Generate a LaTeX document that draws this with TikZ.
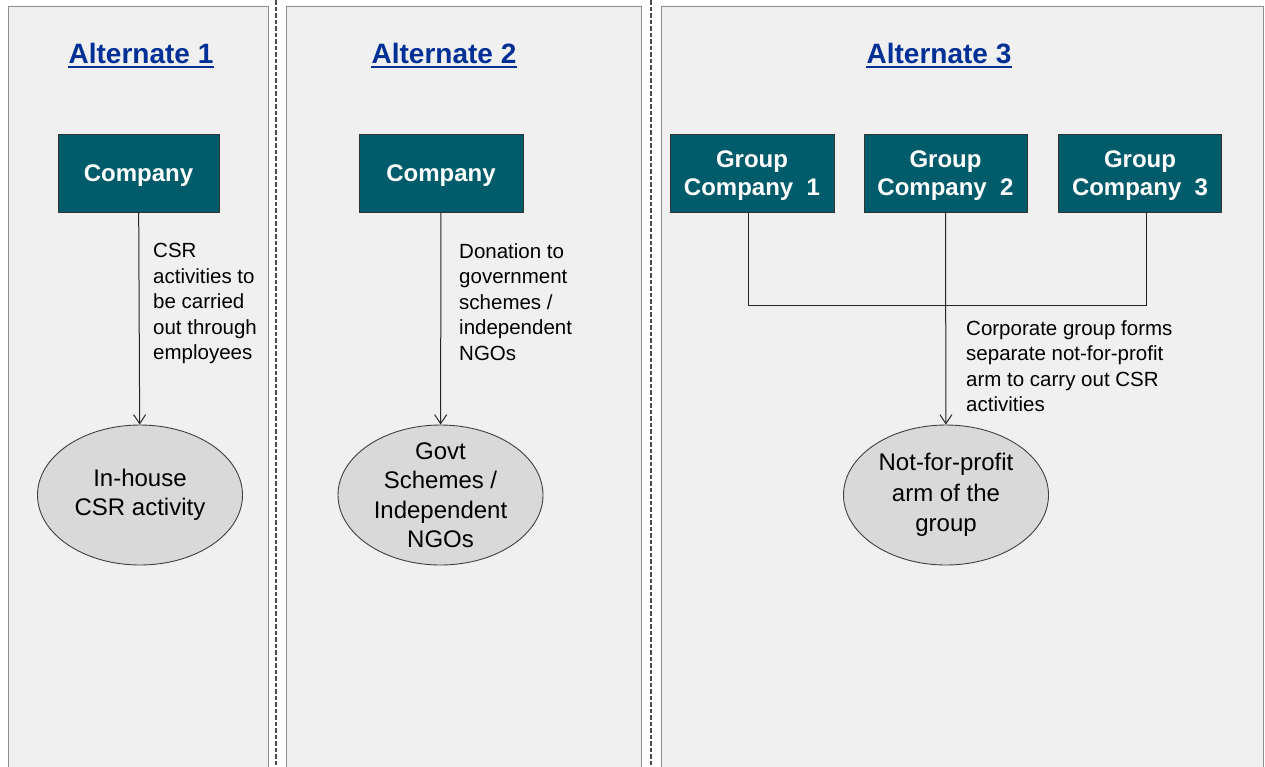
\documentclass[tikz,border=0pt]{standalone}
\usepackage{fontspec}
\setmainfont{Liberation Sans}
\usetikzlibrary{shapes.geometric,arrows.meta}

\definecolor{panelfill}{RGB}{240,240,240}
\definecolor{panelline}{RGB}{140,140,140}
\definecolor{boxteal}{RGB}{0,91,107}
\definecolor{titleblue}{RGB}{0,48,150}
\definecolor{ovalfill}{RGB}{217,217,217}

\tikzset{
  panel/.style={draw=panelline, fill=panelfill, line width=1pt},
  divider/.style={draw=black!70, line width=1.3pt, dash pattern=on 4.5pt off 2pt},
  titletext/.style={font=\bfseries\fontsize{28}{32}\selectfont, text=titleblue, inner sep=0pt},
  titleline/.style={draw=titleblue, line width=2.6pt},
  cobox/.style={draw=black!80, line width=1pt, fill=boxteal, text=white,
    font=\bfseries\fontsize{24}{27.5}\selectfont, minimum height=78pt, inner sep=0pt,
    align=center, text depth=0pt},
  oval/.style={ellipse, draw=black!75, line width=0.9pt, fill=ovalfill,
    minimum width=205pt, minimum height=140pt, inner sep=0pt},
  ovaltext/.style={align=center, font=\fontsize{24}{29.5}\selectfont, inner sep=0pt},
  note/.style={align=left, font=\fontsize{20.5}{25.5}\selectfont, inner sep=0pt, anchor=north west},
  link/.style={draw=black!85, line width=1pt},
  arrowlink/.style={link, -{Straight Barb[length=9pt,width=12pt]}}
}

\begin{document}
\begin{tikzpicture}[x=1pt, y=-1pt]
  % page and frame
  \fill[white] (0,0) rectangle (1265,766);
  \clip (0,0) rectangle (1265,766);

  % three panels and the dashed separators
  \draw[panel] (8,6) rectangle (268,790);
  \draw[panel] (286,6) rectangle (641,790);
  \draw[panel] (661,6) rectangle (1263,790);
  \draw[divider] (276,0) -- (276,766);
  \draw[divider] (651,0) -- (651,766);

  % headings
  \node[titletext, anchor=base] (t1) at (141,63) {Alternate 1};
  \node[titletext, anchor=base] (t2) at (444,63) {Alternate 2};
  \node[titletext, anchor=base] (t3) at (939,63) {Alternate 3};
  \foreach \t in {t1,t2,t3}
    \draw[titleline] ([yshift=-3.8pt]\t.base west) -- ([yshift=-3.8pt]\t.base east);

  % Alternate 1
  \node[cobox, minimum width=161pt] (c1) at (138.5,173) {Company};
  \node[oval] (e1) at (140,495) {};
  \node[ovaltext] (e1t) at (e1) {In-house\\CSR activity};
  \draw[arrowlink] (c1) -- (e1);
  \node[note] (n1) at (153,243) {CSR\\activities to\\be carried\\out through\\employees};

  % Alternate 2
  \node[cobox, minimum width=164pt] (c2) at (441,173) {Company};
  \node[oval] (e2) at (440.5,495) {};
  \node[ovaltext] (e2t) at (e2) {Govt\\Schemes /\\Independent\\NGOs};
  \draw[arrowlink] (c2) -- (e2);
  \node[note] (n2) at (459,243) {Donation to\\government\\schemes /\\independent\\NGOs};

  % Alternate 3
  \node[cobox, minimum width=164pt] (g1) at (752,173) {Group\\Company~~1};
  \node[cobox, minimum width=163pt] (g2) at (945.5,173) {Group\\Company~~2};
  \node[cobox, minimum width=163pt] (g3) at (1140,173) {Group\\Company~~3};
  \node[oval] (e3) at (946,495) {};
  \node[ovaltext, font=\fontsize{24}{30.5}\selectfont] (e3t) at (e3) {Not-for-profit\\arm of the\\group};
  \coordinate (j1) at (748,305);
  \coordinate (j3) at (1146,305);
  \draw[link] ([xshift=-4pt]g1.south) -- (j1) -- (j3) -- ([xshift=6pt]g3.south);
  \draw[arrowlink] (g2) -- (e3);
  \node[note] (n3) at (966,320) {Corporate group forms\\separate not-for-profit\\arm to carry out CSR\\activities};
\end{tikzpicture}
\end{document}
